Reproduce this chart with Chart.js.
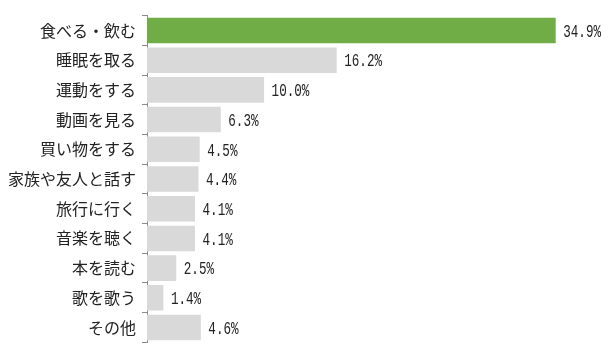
<!DOCTYPE html>
<html><head><meta charset="utf-8">
<script src="https://cdn.jsdelivr.net/npm/chart.js@4/dist/chart.umd.min.js"></script>
<style>html,body{margin:0;padding:0;background:#fff}#wrap{width:609px;height:358px}</style>
</head><body><div id="wrap"><canvas id="c"></canvas></div>
<script>
const categories = ["食べる・飲む","睡眠を取る","運動をする","動画を見る","買い物をする","家族や友人と話す","旅行に行く","音楽を聴く","本を読む","歌を歌う","その他"];
const values = [34.9,16.2,10.0,6.3,4.5,4.4,4.1,4.1,2.5,1.4,4.6];
const barColors = values.map((v,i)=> i===0 ? "#70AD47" : "#D9D9D9");

const valueLabels = {
  id:'valueLabels',
  afterDatasetsDraw(chart){
    const ctx = chart.ctx;
    const meta = chart.getDatasetMeta(0);
    meta.data.forEach((bar,i)=>{
      const t = values[i].toFixed(1) + '%';
      ctx.save();
      ctx.translate(bar.x + 7.5, bar.y + 1.5);
      ctx.scale(0.7, 1);
      ctx.font = '18px "Liberation Mono", "DejaVu Sans Mono", monospace';
      ctx.fillStyle = '#222';
      ctx.textBaseline = 'middle';
      ctx.textAlign = 'left';
      ctx.fillText(t, 0, 0);
      ctx.restore();
    });
  }
};

new Chart(document.getElementById('c'), {
  type:'bar',
  data:{labels:categories, datasets:[{data:values, backgroundColor:barColors, barPercentage:0.86, categoryPercentage:1}]},
  options:{
    indexAxis:'y', responsive:true, maintainAspectRatio:false, animation:false,
    layout:{padding:{top:11,bottom:11,left:0,right:17}},
    plugins:{legend:{display:false}, tooltip:{enabled:false}},
    scales:{
      x:{display:false, min:0, max:38},
      y:{
        afterFit(s){ s.width = 147; },
        border:{display:true,color:'#8a8a8a',width:1},
        grid:{offset:true, drawOnChartArea:false, tickLength:5, color:'#8a8a8a'},
        ticks:{padding:6, color:'#222', font:{family:'"Noto Sans CJK JP"', size:16}}
      }
    }
  },
  plugins:[valueLabels]
});
</script></body></html>
